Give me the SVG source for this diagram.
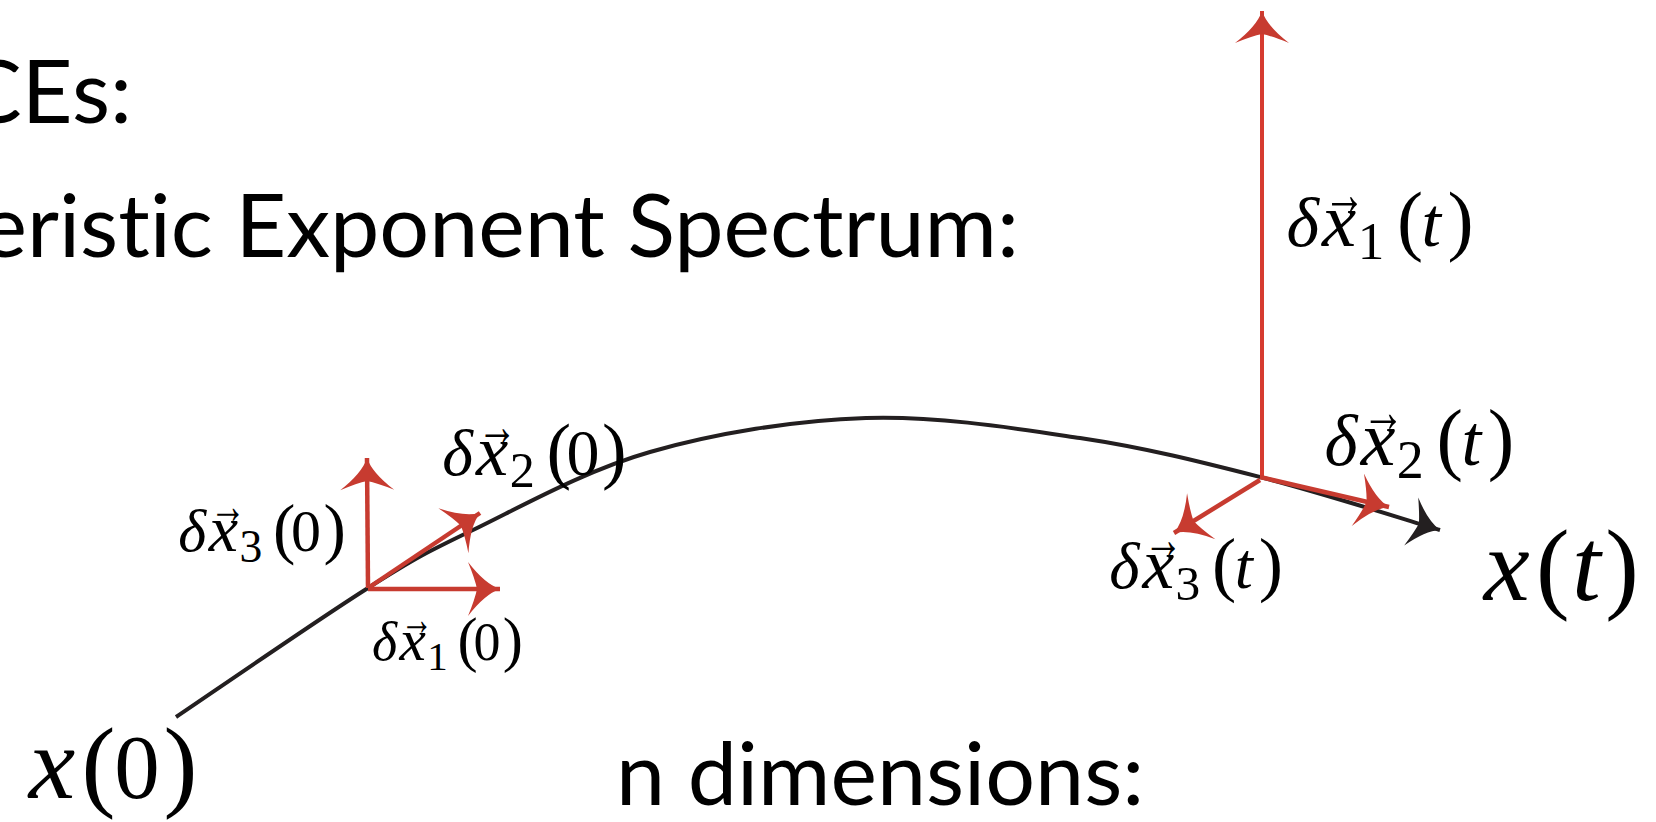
<svg xmlns="http://www.w3.org/2000/svg" width="1656" height="822" viewBox="0 0 1656 822">
<style>
.title{font-family:"Lato","Open Sans",sans-serif;font-size:88px;fill:#000;font-variant-ligatures:none}
.m text{font-family:"Liberation Serif","DejaVu Serif",serif;fill:#000;font-size:100px}
.i{font-style:italic}
.m .xx{font-size:110px}
.m .sub{font-size:76px}
.m .par{font-size:112px}
.m .vec{font-size:85px}
.red{stroke:#c73b30;stroke-width:4.5;fill:none}
.blk{stroke:#231f20;stroke-width:4;fill:none}
</style>
<defs>
<marker id="ar" viewBox="-36 -30 38 60" refX="0" refY="0" markerWidth="38" markerHeight="60" markerUnits="userSpaceOnUse" orient="auto">
<path d="M0,0 Q-15,-5 -32,-27 Q-25,-10 -23,0 Q-25,10 -32,27 Q-15,5 0,0 Z" fill="#c73b30"/>
</marker>
<marker id="ak" viewBox="-36 -30 38 60" refX="0" refY="0" markerWidth="38" markerHeight="60" markerUnits="userSpaceOnUse" orient="auto">
<path d="M0,0 Q-14,-5 -30,-25 Q-24,-9 -22,0 Q-24,9 -30,25 Q-14,5 0,0 Z" fill="#231f20"/>
</marker>
</defs>
<g id="titles">
<text class="title" x="132" y="123" text-anchor="end">CEs:</text>
<text class="title" x="1019" y="257" text-anchor="end">eristic Exponent Spectrum:</text>
<text class="title" x="616" y="805">n dimensions:</text>
</g>
<g id="connectors">
<path id="trajectory" class="blk" marker-end="url(#ak)" d="M176,717 C208,695.5 318.5,619.2 368,588 C417.5,556.8 426,552.7 473,530 C520,507.3 584.5,470.7 650,452 C715.5,433.3 794.3,420.3 866,418 C937.7,415.7 1014.3,428.2 1080,438 C1145.7,447.8 1200,461.7 1260,477 C1320,492.3 1410,521.2 1440,530"/>
<line class="red" x1="368" y1="588" x2="367" y2="458" marker-end="url(#ar)"/>
<line class="red" x1="368" y1="589" x2="500" y2="589" marker-end="url(#ar)"/>
<line class="red" x1="368" y1="588" x2="480" y2="513" marker-end="url(#ar)"/>
<line class="red" x1="1262" y1="477" x2="1262" y2="11" marker-end="url(#ar)" style="stroke:#d63b30;stroke-width:4"/>
<line class="red" x1="1260" y1="477" x2="1389" y2="507" marker-end="url(#ar)"/>
<line class="red" x1="1260" y1="480" x2="1174" y2="533" marker-end="url(#ar)"/>
</g>
<g id="label-dx2-0" class="m" transform="translate(441,475) scale(0.66)">
<text x="2" class="i">δ</text><text x="53" class="i xx">x</text><text class="vec" x="55" y="-46" textLength="60" lengthAdjust="spacingAndGlyphs">→</text><text class="sub" x="104" y="18">2</text><text class="par" x="160">(</text><text x="190">0</text><text class="par" x="244">)</text>
</g>
<g id="label-dx3-0" class="m" transform="translate(177,551) scale(0.60)">
<text x="2" class="i">δ</text><text x="53" class="i xx">x</text><text class="vec" x="55" y="-46" textLength="60" lengthAdjust="spacingAndGlyphs">→</text><text class="sub" x="104" y="18">3</text><text class="par" x="160">(</text><text x="190">0</text><text class="par" x="244">)</text>
</g>
<g id="label-dx1-0" class="m" transform="translate(371,660) scale(0.54)">
<text x="2" class="i">δ</text><text x="53" class="i xx">x</text><text class="vec" x="55" y="-46" textLength="60" lengthAdjust="spacingAndGlyphs">→</text><text class="sub" x="104" y="18">1</text><text class="par" x="160">(</text><text x="190">0</text><text class="par" x="244">)</text>
</g>
<g id="label-dx1-t" class="m" transform="translate(1285,246) scale(0.70)">
<text x="2" class="i">δ</text><text x="53" class="i xx">x</text><text class="vec" x="55" y="-46" textLength="60" lengthAdjust="spacingAndGlyphs">→</text><text class="sub" x="104" y="18">1</text><text class="par" x="160">(</text><text x="195" class="i">t</text><text class="par" x="232">)</text>
</g>
<g id="label-dx2-t" class="m" transform="translate(1323,465) scale(0.71)">
<text x="2" class="i">δ</text><text x="53" class="i xx">x</text><text class="vec" x="55" y="-46" textLength="60" lengthAdjust="spacingAndGlyphs">→</text><text class="sub" x="104" y="18">2</text><text class="par" x="160">(</text><text x="195" class="i">t</text><text class="par" x="232">)</text>
</g>
<g id="label-dx3-t" class="m" transform="translate(1108,588) scale(0.65)">
<text x="2" class="i">δ</text><text x="53" class="i xx">x</text><text class="vec" x="55" y="-46" textLength="60" lengthAdjust="spacingAndGlyphs">→</text><text class="sub" x="104" y="18">3</text><text class="par" x="160">(</text><text x="195" class="i">t</text><text class="par" x="232">)</text>
</g>
<g id="label-xt" class="m" transform="translate(1482,600) scale(0.90)">
<text x="2" class="i" style="font-size:115px">x</text><text class="par" x="60">(</text><text x="100" class="i" style="font-size:115px">t</text><text class="par" x="137">)</text>
</g>
<g id="label-x0" class="m" transform="translate(27,798) scale(0.91)">
<text x="2" class="i" style="font-size:115px">x</text><text class="par" x="60">(</text><text x="96">0</text><text class="par" x="150">)</text>
</g>
</svg>
